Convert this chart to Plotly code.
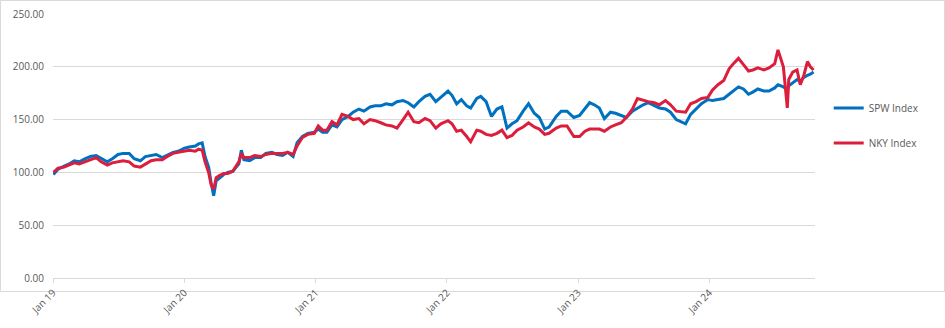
import plotly.graph_objects as go

# Rebased index levels (start = 100), sampled roughly twice a month
dates = [
    "2019-01-02", "2019-01-15", "2019-02-01", "2019-02-15", "2019-03-01", "2019-03-15",
    "2019-04-01", "2019-04-15", "2019-05-01", "2019-05-15", "2019-06-01", "2019-06-15",
    "2019-07-01", "2019-07-15", "2019-08-01", "2019-08-15", "2019-09-01", "2019-09-15",
    "2019-10-01", "2019-10-15", "2019-11-01", "2019-11-15", "2019-12-01", "2019-12-15",
    "2020-01-02", "2020-01-15", "2020-02-01", "2020-02-10", "2020-02-20", "2020-02-28",
    "2020-03-09", "2020-03-16", "2020-03-23", "2020-03-30", "2020-04-08", "2020-04-20",
    "2020-05-01", "2020-05-15", "2020-06-01", "2020-06-08", "2020-06-15", "2020-07-01",
    "2020-07-15", "2020-08-01", "2020-08-15", "2020-09-01", "2020-09-15", "2020-10-01",
    "2020-10-15", "2020-10-30", "2020-11-10", "2020-11-25", "2020-12-10", "2020-12-28",
    "2021-01-08", "2021-01-20", "2021-02-01", "2021-02-15", "2021-03-01", "2021-03-15",
    "2021-04-01", "2021-04-15", "2021-05-01", "2021-05-15", "2021-06-01", "2021-06-15",
    "2021-07-01", "2021-07-15", "2021-08-01", "2021-08-15", "2021-09-01", "2021-09-15",
    "2021-10-01", "2021-10-15", "2021-11-01", "2021-11-15", "2021-12-01", "2021-12-15",
    "2022-01-04", "2022-01-15", "2022-01-28", "2022-02-10", "2022-02-25", "2022-03-08",
    "2022-03-25", "2022-04-05", "2022-04-20", "2022-05-05", "2022-05-20", "2022-06-03",
    "2022-06-17", "2022-07-01", "2022-07-15", "2022-08-01", "2022-08-16", "2022-09-01",
    "2022-09-15", "2022-09-30", "2022-10-12", "2022-11-01", "2022-11-15", "2022-12-01",
    "2022-12-20", "2023-01-05", "2023-01-20", "2023-02-02", "2023-02-15", "2023-03-01",
    "2023-03-15", "2023-04-01", "2023-04-15", "2023-05-01", "2023-05-15", "2023-06-01",
    "2023-06-15", "2023-07-01", "2023-07-15", "2023-08-01", "2023-08-15", "2023-09-01",
    "2023-09-15", "2023-10-01", "2023-10-27", "2023-11-10", "2023-11-25", "2023-12-10",
    "2023-12-28", "2024-01-10", "2024-01-25", "2024-02-10", "2024-02-25", "2024-03-08",
    "2024-03-22", "2024-04-05", "2024-04-19", "2024-05-01", "2024-05-15", "2024-06-01",
    "2024-06-15", "2024-07-01", "2024-07-10", "2024-07-25", "2024-08-05", "2024-08-09",
    "2024-08-20", "2024-09-01", "2024-09-10", "2024-09-20", "2024-09-30", "2024-10-08",
    "2024-10-17",
]

spw_index = [
    98, 103, 106, 108, 111, 110,
    113, 115, 116, 113, 110, 113,
    117, 118, 118, 113, 111, 115,
    116, 117, 114, 116, 119, 120,
    123, 124, 125, 127, 128, 115,
    105, 90, 78, 92, 95, 98,
    100, 101, 108, 121, 112, 111,
    114, 114, 118, 119, 117, 116,
    119, 115, 128, 134, 137, 138,
    141, 138, 138, 145, 143, 150,
    153, 157, 160, 158, 162, 163,
    163, 165, 164, 167, 168, 166,
    162, 167, 172, 174, 167, 171,
    177, 173, 165, 169, 163, 161,
    170, 172, 167, 153, 160, 162,
    142, 146, 149, 158, 165, 156,
    152, 141, 143, 153, 158, 158,
    152, 154, 160, 166, 164, 161,
    151, 157, 156, 154, 152, 158,
    161, 164, 166, 163, 161, 160,
    157, 150, 146, 155, 160, 165,
    169, 168, 169, 170, 174, 177,
    181, 179, 174, 176, 179, 177,
    177, 180, 183, 181, 178, 182,
    185, 188, 186, 190, 192, 193,
    195,
]

nky_index = [
    100, 104, 105, 107, 109, 108,
    110, 112, 114, 110, 107, 109,
    110, 111, 110, 106, 105, 108,
    111, 112, 112, 115, 118, 119,
    120, 121, 120, 122, 121, 110,
    100, 88, 84, 95, 97, 99,
    99, 101, 110, 118, 114, 114,
    116, 115, 117, 118, 118, 118,
    119, 117, 125, 133, 136, 137,
    144, 140, 140, 148, 145, 155,
    153, 150, 151, 146, 150, 149,
    147, 145, 144, 142, 150, 157,
    148, 147, 151, 149, 142, 146,
    149, 146, 139, 140, 134, 129,
    140, 139, 136, 135, 137, 140,
    133, 135, 140, 143, 147, 143,
    141, 136, 137, 142, 144, 144,
    134, 134, 139, 141, 141, 141,
    139, 143, 145, 147, 152, 160,
    170, 168, 167, 166, 164, 168,
    164, 158, 157, 165, 167, 170,
    171, 178, 183, 187, 198, 203,
    208, 202, 196, 197, 199, 197,
    199, 203, 216, 200, 161, 188,
    195, 197, 183, 192, 205, 200,
    197,
]

series_names = ["SPW Index", "NKY Index"]
series_colors = ["#0070C0", "#DC1E3C"]
y_ticks = [0, 50, 100, 150, 200, 250]

W, H = 945, 328
ML, MR, MT, MB = 53, 130, 14, 50
PW, PH = W - ML - MR, H - MT - MB

fig = go.Figure()
for i, (name, vals) in enumerate(zip(series_names, [spw_index, nky_index])):
    fig.add_trace(go.Scatter(
        x=dates, y=vals, name=name, mode="lines",
        legendgroup=name,
        line=dict(color=series_colors[i], width=3),
    ))

text_grey = "#595959"
grid_grey = "#D9D9D9"

fig.update_layout(
    width=W, height=H,
    margin=dict(l=ML, r=MR, t=MT, b=MB, pad=0, autoexpand=False),
    paper_bgcolor="white", plot_bgcolor="white",
    font=dict(family="Open Sans, sans-serif", size=10, color=text_grey),
    showlegend=True,
    legend=dict(
        x=1.018, y=0.699, xanchor="left", yanchor="top",
        font=dict(size=10, color=text_grey),
        tracegroupgap=16, itemwidth=30,
        bgcolor="rgba(0,0,0,0)",
    ),
    xaxis=dict(
        type="date", automargin=False,
        range=["2019-01-01", "2024-10-21"],
        tick0="2019-01-01", dtick="M12", tickformat="%b %y",
        tickangle=-45,
        showgrid=False, zeroline=False,
        showline=True, linecolor=grid_grey, linewidth=1,
        ticks="outside", ticklen=4, tickcolor=grid_grey,
        tickfont=dict(size=10, color=text_grey),
    ),
    yaxis=dict(
        automargin=False,
        range=[0, 250], tickvals=y_ticks, tickformat=".2f",
        showgrid=True, gridcolor=grid_grey, gridwidth=1,
        zeroline=False, showline=False,
        ticks="", ticklabelstandoff=8,
        tickfont=dict(size=10, color=text_grey),
    ),
    shapes=[dict(
        type="rect", xref="paper", yref="paper",
        x0=(0.5 - ML) / PW, x1=(W - 0.5 - ML) / PW,
        y0=(PH + MB - (H - 0.5)) / PH, y1=(PH + MB - 0.5 - MB + MT) / PH,
        line=dict(color="#D9D9D9", width=1), layer="below",
    )],
)

fig.write_html("out.html")
